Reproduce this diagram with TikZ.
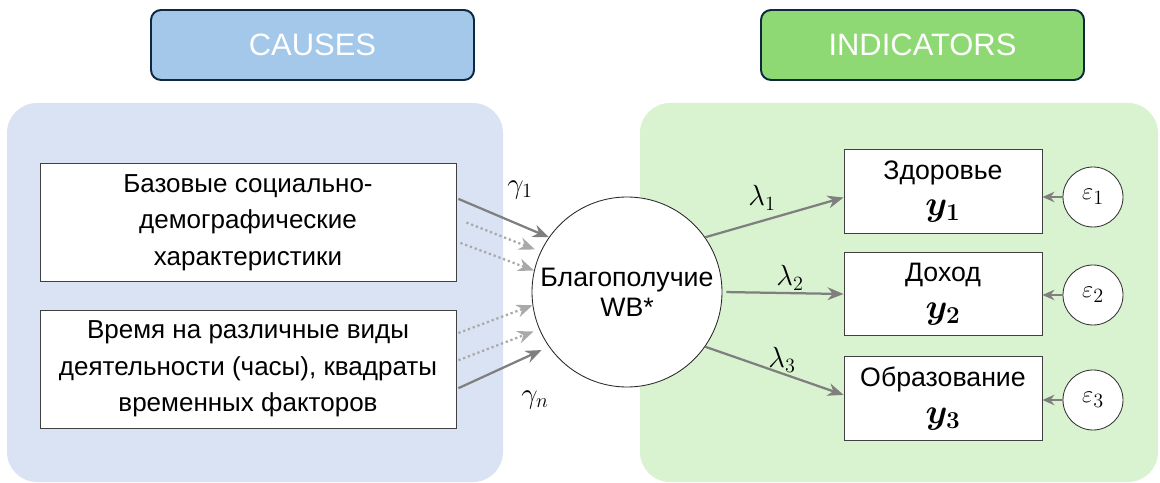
\documentclass[tikz,border=0pt]{standalone}
\usepackage{amsmath,amssymb,bm}
\usepackage[no-math]{fontspec}
\setmainfont{Liberation Sans}
\usepackage{tikz}
\usetikzlibrary{positioning}
\usetikzlibrary{arrows.meta}

\definecolor{causesbg}{HTML}{DAE3F3}
\definecolor{indicbg}{HTML}{D9F2D0}
\definecolor{causeshead}{HTML}{A3C8EA}
\definecolor{indichead}{HTML}{8ED973}
\definecolor{headline}{HTML}{0E2841}
\definecolor{arrowgray}{HTML}{7F7F7F}
\definecolor{dotgray}{HTML}{A9A9A9}

\newcommand{\ylabel}[1]{{\fontsize{23}{26}\selectfont$\bm{y_{#1}}$}}

\begin{document}
\begin{tikzpicture}[
    header/.style={draw=headline,line width=1.4pt,rounded corners=0.25cm,minimum width=8.075cm,minimum height=1.75cm,text=white,font=\fontsize{22}{26}\selectfont},
    causebox/.style={draw=black!75,fill=white,line width=0.6pt,minimum width=10.4cm,minimum height=2.95cm,align=center,font=\fontsize{18.5}{26}\selectfont},
    indbox/.style={draw=black!75,fill=white,line width=0.6pt,minimum width=4.95cm,minimum height=2.08cm,align=center,font=\fontsize{19}{26}\selectfont},
    errcirc/.style={circle,draw=black!80,fill=white,line width=0.6pt,minimum size=1.5cm,inner sep=0pt,font=\fontsize{19}{20}\selectfont},
    coef/.style={font=\fontsize{20}{22}\selectfont},
    path/.style={-{Stealth[length=0.4cm,width=0.32cm]},draw=arrowgray,line width=1.6pt},
    dotpath/.style={-{Stealth[length=0.4cm,width=0.32cm]},draw=dotgray,line width=1.6pt,dotted}
]
    \useasboundingbox (0,0) rectangle (29,-12.075);

    % background panels
    \fill[causesbg,rounded corners=0.75cm] (0.175,-2.575) rectangle (12.575,-12.05);
    \fill[indicbg,rounded corners=0.75cm] (16,-2.575) rectangle (28.95,-12.05);

    \node[header,fill=causeshead] (causes) at (7.8125,-1.125) {CAUSES};
    \node[header,fill=indichead] (indicators) at (23.0625,-1.125) {INDICATORS};

    \node[causebox] (basic) at (6.2,-5.5625) {Базовые социально-\\демографические\\характеристики};
    \node[causebox] (time) at (6.2,-9.225) {Время на различные виды\\деятельности (часы), квадраты\\временных факторов};

    \node[circle,draw=black!85,fill=white,line width=0.6pt,minimum size=4.75cm,inner sep=0pt,align=center,font=\fontsize{19}{21.5}\selectfont] (wb) at (15.675,-7.3) {Благополучие\\WB*};

    \node[indbox] (health) at (23.575,-4.7875) {Здоровье\\\ylabel{1}};
    \node[indbox] (income) at (23.575,-7.35) {Доход\\\ylabel{2}};
    \node[indbox] (educ) at (23.575,-9.9625) {Образование\\\ylabel{3}};

    \node[errcirc] (eps1) at (27.325,-4.925) {$\varepsilon_1$};
    \node[errcirc] (eps2) at (27.325,-7.375) {$\varepsilon_2$};
    \node[errcirc] (eps3) at (27.325,-10) {$\varepsilon_3$};

    % causes -> WB*
    \draw[path] ([shift={(0.05,0.59)}]basic.east) -- (wb.145);
    \draw[dotpath,shorten >=0.15cm] ([shift={(0.25,0)}]basic.east) -- (wb.155);
    \draw[dotpath] ([shift={(0.1,-0.51)}]basic.east) -- (wb.167);
    \draw[dotpath] ([shift={(0.05,0.9)}]time.east) -- (wb.188);
    \draw[dotpath,shorten >=0.15cm] ([shift={(0.05,0.22)}]time.east) -- (wb.203);
    \draw[path,shorten >=0.2cm] ([shift={(0.05,-0.48)}]time.east) -- (wb.215);
    \node[coef] (gamma1) at (13,-4.75) {$\gamma_1$};
    \node[coef] (gamman) at (13.375,-10) {$\gamma_n$};

    % WB* -> indicators
    \draw[path] (wb.35) -- ([yshift=-0.15cm]health.west);
    \draw[path,shorten <=0.1cm] (wb.0) -- (income.west);
    \draw[path] (wb.-35) -- ([yshift=0.09cm]educ.west);
    \node[coef] (lambda1) at (19.05,-4.95) {$\lambda_1$};
    \node[coef] (lambda2) at (19.75,-6.95) {$\lambda_2$};
    \node[coef] (lambda3) at (19.55,-9.0) {$\lambda_3$};

    \foreach \e/\y in {eps1/health,eps2/income,eps3/educ}
        \draw[-{Stealth[length=0.3cm,width=0.26cm]},draw=arrowgray,line width=1.6pt] (\e.west) -- (\y.east |- \e.west);
\end{tikzpicture}
\end{document}
